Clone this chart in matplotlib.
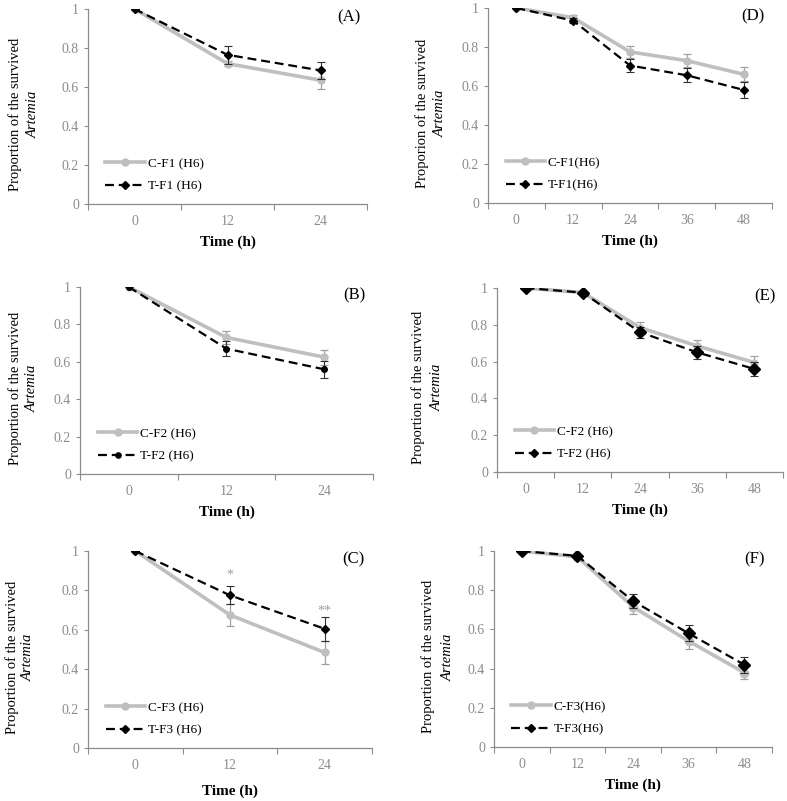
import matplotlib
matplotlib.use("Agg")
import matplotlib.pyplot as plt
from matplotlib.lines import Line2D
import numpy as np

plt.rcParams.update({"font.family": "Liberation Serif", "font.size": 8})

# time points
times_short = ["0", "12", "24"]
times_long = ["0", "12", "24", "36", "48"]

# panel A (F1, 24 h)
a_ctrl = [1.0, 0.72, 0.635]
a_ctrl_err = [0.0, 0.012, 0.045]
a_trt = [1.0, 0.765, 0.685]
a_trt_err = [0.0, 0.045, 0.045]

# panel B (F2, 24 h)
b_ctrl = [1.0, 0.73, 0.625]
b_ctrl_err = [0.0, 0.035, 0.04]
b_trt = [1.0, 0.67, 0.56]
b_trt_err = [0.0, 0.04, 0.045]

# panel C (F3, 24 h)
c_ctrl = [1.0, 0.675, 0.485]
c_ctrl_err = [0.0, 0.055, 0.06]
c_trt = [1.0, 0.775, 0.605]
c_trt_err = [0.0, 0.045, 0.06]

# panel D (F1, 48 h)
d_ctrl = [1.0, 0.95, 0.775, 0.73, 0.66]
d_ctrl_err = [0.0, 0.012, 0.03, 0.035, 0.035]
d_trt = [1.0, 0.935, 0.705, 0.655, 0.58]
d_trt_err = [0.0, 0.012, 0.035, 0.035, 0.04]

# panel E (F2, 48 h)
e_ctrl = [1.0, 0.975, 0.785, 0.685, 0.595]
e_ctrl_err = [0.0, 0.008, 0.03, 0.032, 0.035]
e_trt = [1.0, 0.975, 0.76, 0.65, 0.56]
e_trt_err = [0.0, 0.008, 0.03, 0.035, 0.04]

# panel F (F3, 48 h)
f_ctrl = [1.0, 0.97, 0.715, 0.54, 0.38]
f_ctrl_err = [0.0, 0.01, 0.035, 0.04, 0.035]
f_trt = [1.0, 0.975, 0.745, 0.58, 0.42]
f_trt_err = [0.0, 0.01, 0.035, 0.04, 0.04]

W, H = 787, 801
fig = plt.figure(figsize=(W / 100, H / 100), dpi=100)

GRAY = "#BFBFBF"
TICKGRAY = "#8C8C8C"
DASH = (0, (4, 2.2))


def make_ax(l, t, r, b):
    return fig.add_axes([l / W, 1 - b / H, (r - l) / W, (b - t) / H])


def panel(ax, times, ctrl, ctrl_err, trt, trt_err, gen, label, tag, ylab_off,
          t_marker="D", t_ms=4, c_ms=5, first_line="Proportion of the survived"):
    x = np.arange(len(times))
    ax.errorbar(x, ctrl, yerr=ctrl_err, color=GRAY, lw=2.6, marker="o", ms=c_ms,
                ecolor="#A0A0A0", elinewidth=0.9, capsize=3, capthick=0.9, zorder=2)
    ax.errorbar(x, trt, yerr=trt_err, color="black", lw=1.6, ls=DASH,
                marker=t_marker, ms=t_ms, ecolor="#303030", elinewidth=0.8, capsize=3,
                capthick=0.8, zorder=3)
    ax.set_xlim(-0.5, len(times) - 0.5)
    ax.set_ylim(0, 1)
    ax.set_yticks([0, 0.2, 0.4, 0.6, 0.8, 1])
    ax.set_yticklabels(["0", "0.2", "0.4", "0.6", "0.8", "1"])
    ax.set_xticks(np.arange(len(times) + 1) - 0.5)
    ax.set_xticklabels([])
    ax.set_xticks(x, minor=True)
    ax.set_xticklabels(times, minor=True)
    ax.tick_params(axis="x", which="minor", length=0, pad=8, colors=TICKGRAY, labelsize=10)
    ax.tick_params(axis="x", which="major", length=4, direction="out", color=TICKGRAY)
    ax.tick_params(axis="y", length=3, color=TICKGRAY, labelcolor=TICKGRAY, labelsize=10)
    for s in ("top", "right"):
        ax.spines[s].set_visible(False)
    for s in ("left", "bottom"):
        ax.spines[s].set_color(TICKGRAY)
        ax.spines[s].set_linewidth(0.9)
    ax.set_xlabel("Time (h)", fontweight="bold", fontsize=11, labelpad=5)
    wpx = ax.get_position().width * W
    ax.text(ylab_off[0] / wpx, 0.46, first_line, rotation=90, transform=ax.transAxes,
            ha="center", va="center", fontsize=10.5)
    ax.text(ylab_off[1] / wpx, 0.46, "Artemia", rotation=90, transform=ax.transAxes,
            ha="center", va="center", fontsize=10.5, style="italic")
    ax.text(0.975, 0.955, tag, transform=ax.transAxes, ha="right", va="center", fontsize=12)
    handles = [
        Line2D([], [], color=GRAY, lw=2.6, marker="o", ms=5),
        Line2D([], [], color="black", lw=1.6, ls=DASH, marker=t_marker, ms=3.8),
    ]
    ax.legend(handles, [f"C-{gen}{label}", f"T-{gen}{label}"], loc="lower left",
              bbox_to_anchor=(0.02, 0.0), frameon=False, fontsize=9.5,
              handlelength=3.0, handletextpad=0.2, labelspacing=0.75)


axA = make_ax(88, 9, 367, 204)
panel(axA, times_short, a_ctrl, a_ctrl_err, a_trt, a_trt_err, "F1", " (H6)", "(A)", (-73, -55))
axB = make_ax(80, 287, 373, 474)
panel(axB, times_short, b_ctrl, b_ctrl_err, b_trt, b_trt_err, "F2", " (H6)", "(B)", (-65, -48),
      t_marker="o")
axC = make_ax(88, 551, 372, 748)
panel(axC, times_short, c_ctrl, c_ctrl_err, c_trt, c_trt_err, "F3", " (H6)", "(C)", (-76, -60))
axC.xaxis.labelpad = 9
axC.text(1, c_trt[1] + c_trt_err[1] + 0.04, "*", color="#A0A0A0", ha="center", fontsize=10)
axC.text(2, c_trt[2] + c_trt_err[2] + 0.01, "**", color="#A0A0A0", ha="center", fontsize=10)

axD = make_ax(488, 8, 772, 203)
panel(axD, times_long, d_ctrl, d_ctrl_err, d_trt, d_trt_err, "F1", "(H6)", "(D)", (-66, -48),
      first_line="Proporion of the survived")
axE = make_ax(497, 288, 783, 472)
panel(axE, times_long, e_ctrl, e_ctrl_err, e_trt, e_trt_err, "F2", " (H6)", "(E)", (-79, -60),
      t_ms=6)
axF = make_ax(494, 551, 772, 747)
panel(axF, times_long, f_ctrl, f_ctrl_err, f_trt, f_trt_err, "F3", "(H6)", "(F)", (-66, -46),
      t_ms=6, c_ms=6)

fig.savefig("out.png", dpi=100, facecolor="white")
